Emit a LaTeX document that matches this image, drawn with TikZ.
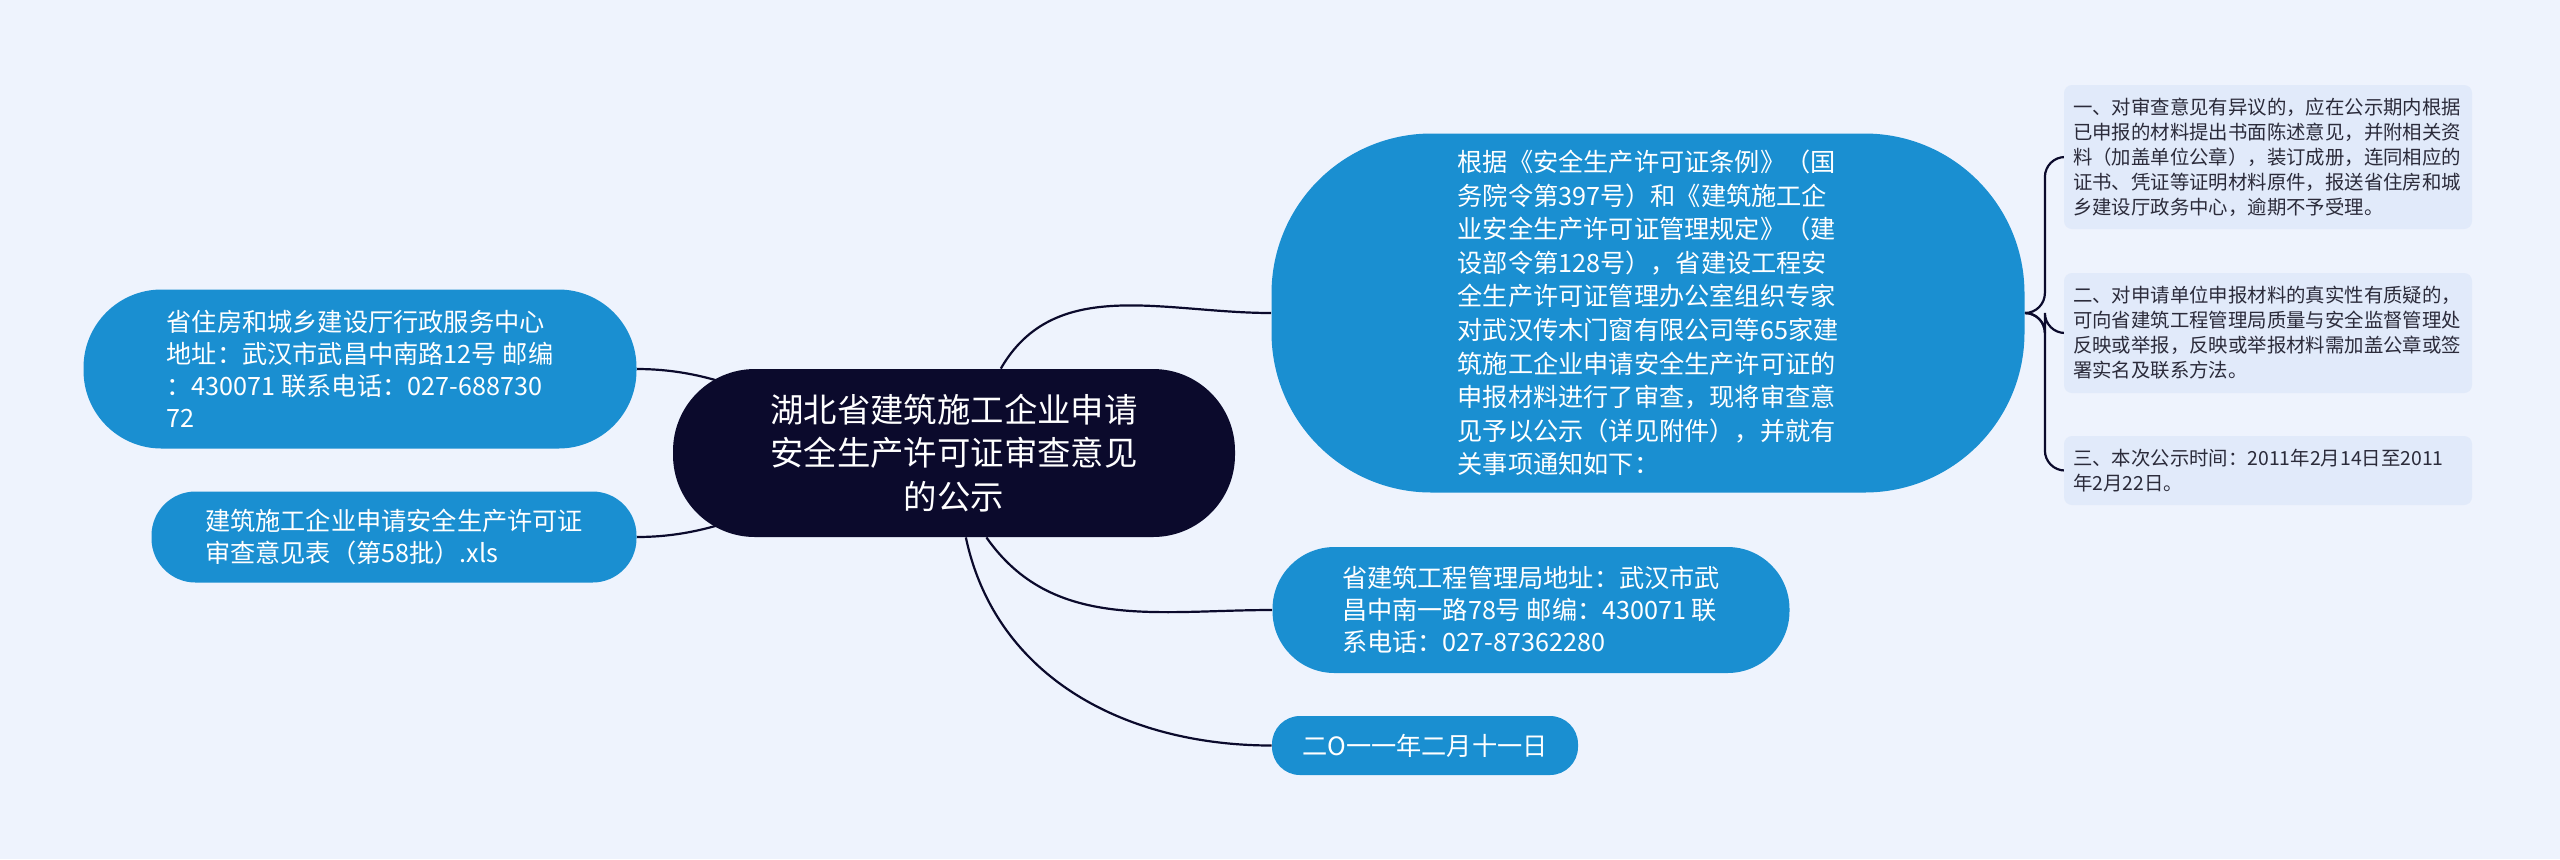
\documentclass[tikz,border=0pt]{standalone}
\usepackage{fontspec}
\setmainfont{Noto Sans CJK SC}
\pgfdeclarelayer{background}
\pgfsetlayers{background,main}
\definecolor{sfondo}{HTML}{EEF3FD}
\definecolor{blu}{HTML}{1A8FD1}
\definecolor{notte}{HTML}{0B0A2C}
\definecolor{nota}{HTML}{E1EAFA}
\definecolor{testonota}{HTML}{2B2B3A}
\begin{document}
\begin{tikzpicture}[x=0.5pt,y=-0.5pt]
    % Definizione stili
    \tikzset{ramo/.style={fill=blu, text=white, align=left, inner sep=0pt,
        font=\fontsize{12.6}{16}\selectfont}}
    \tikzstyle{titolo}=[fill=notte, text=white, align=center, inner sep=0pt,
        minimum width=281pt, minimum height=84pt, rounded corners=41pt,
        font=\fontsize{16.7}{21.7}\selectfont]
    \tikzstyle{nota}=[fill=nota, text=testonota, align=left, inner sep=0pt,
        text width=195pt, minimum width=204pt, rounded corners=4pt,
        font=\fontsize{9.7}{12.5}\selectfont]
    \tikzstyle{linea}=[draw=notte, line width=1.1pt]

    % Sfondo
    \begin{pgfonlayer}{background}
    \fill[sfondo] (0,0) rectangle (2560,859);
    \end{pgfonlayer}

    % Nodo centrale
    \node[titolo] (titolo) at (954,453) {湖北省建筑施工企业申请\\安全生产许可证审查意见\\的公示};

    % Rami a sinistra
    \node[ramo, minimum width=276.5pt, minimum height=79.5pt, rounded corners=39pt] (centro) at (360,369)
        {省住房和城乡建设厅行政服务中心\\地址：武汉市武昌中南路12号 邮编\\：430071 联系电话：027-688730\\72};
    \node[ramo, minimum width=242.5pt, minimum height=45.5pt, rounded corners=22pt] (allegato) at (394,537)
        {建筑施工企业申请安全生产许可证\\审查意见表（第58批）.xls};

    % Rami a destra
    \node[ramo, minimum width=376.5pt, minimum height=179.5pt, rounded corners=80pt,
        font=\fontsize{12.6}{16.8}\selectfont] (avviso) at (1648,313)
        {根据《安全生产许可证条例》（国\\务院令第397号）和《建筑施工企\\业安全生产许可证管理规定》（建\\设部令第128号），省建设工程安\\全生产许可证管理办公室组织专家\\对武汉传木门窗有限公司等65家建\\筑施工企业申请安全生产许可证的\\申报材料进行了审查，现将审查意\\见予以公示（详见附件），并就有\\关事项通知如下：};
    \node[ramo, minimum width=258.5pt, minimum height=63pt, rounded corners=31pt] (ufficio) at (1531,610)
        {省建筑工程管理局地址：武汉市武\\昌中南一路78号 邮编：430071 联\\系电话：027-87362280};
    \node[ramo, minimum width=153pt, minimum height=29.5pt, rounded corners=14pt] (data) at (1425,745.5)
        {二O一一年二月十一日};

    % Note
    \node[nota, minimum height=72pt] (nota1) at (2268,157)
        {一、对审查意见有异议的，应在公示期内根据\\已申报的材料提出书面陈述意见，并附相关资\\料（加盖单位公章），装订成册，连同相应的\\证书、凭证等证明材料原件，报送省住房和城\\乡建设厅政务中心，逾期不予受理。};
    \node[nota, minimum height=60pt] (nota2) at (2268,333)
        {二、对申请单位申报材料的真实性有质疑的，\\可向省建筑工程管理局质量与安全监督管理处\\反映或举报，反映或举报材料需加盖公章或签\\署实名及联系方法。};
    \node[nota, minimum height=34.5pt] (nota3) at (2268,470.5)
        {三、本次公示时间：2011年2月14日至2011\\年2月22日。};

    % Collegamenti
    \begin{pgfonlayer}{background}
    \draw[linea] (centro.east) to[out=0, in=180] (titolo.center);
    \draw[linea] (allegato.east) to[out=0, in=180] (titolo.center);
    \draw[linea] (titolo.61) to[out=60, in=180] (avviso.west);
    \draw[linea] (titolo.-69) to[out=-55, in=180] (ufficio.west);
    \draw[linea] (titolo.-82) to[out=-78, in=180] (data.west);
    \draw[linea, rounded corners=10pt] (avviso.east) -- ++(20,0) |- (nota1.west);
    \draw[linea, rounded corners=10pt] (avviso.east) -- ++(20,0) |- (nota2.west);
    \draw[linea, rounded corners=10pt] (avviso.east) -- ++(20,0) |- (nota3.west);
    \end{pgfonlayer}
\end{tikzpicture}
\end{document}
